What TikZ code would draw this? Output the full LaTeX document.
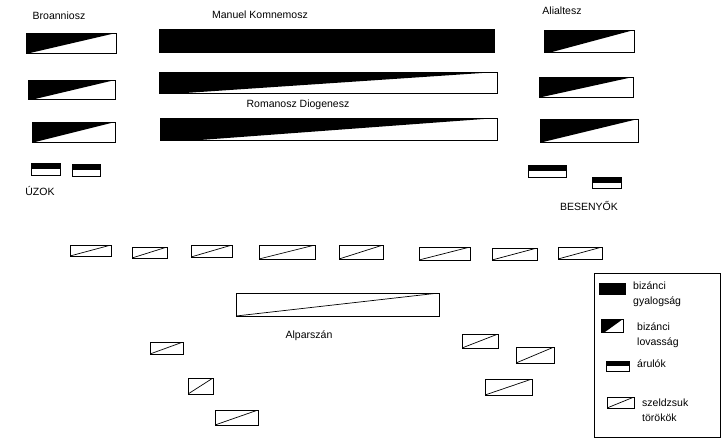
\documentclass[tikz,border=0pt]{standalone}
\usepackage{fontspec}
\setmainfont{Liberation Sans}
\begin{document}
\begin{tikzpicture}[x=1pt,y=-1pt,
  box/.style={draw, line width=0.9pt, inner sep=0pt, outer sep=0pt, anchor=north west},
  infantry/.style={box, fill=black},
  cavalry/.style={box, path picture={\fill[black] (path picture bounding box.north west) -- (path picture bounding box.north east) -- ([xshift=#1]path picture bounding box.south west) -- (path picture bounding box.south west) -- cycle;}},
  cavalry/.default=4pt,
  traitor/.style={box, path picture={\fill[black] (path picture bounding box.north west) rectangle ([yshift=-0.5*\pgfkeysvalueof{/pgf/minimum height}]path picture bounding box.north east);}},
  seljuk/.style={box, path picture={\draw[line width=0.7pt] (path picture bounding box.south west) -- (path picture bounding box.north east);}},
  lbl/.style={font=\fontsize{10.5}{15}\selectfont, inner sep=0pt},
]
\newcommand{\troop}[6]{\node[#1, minimum width={(#5-#3)*1pt}, minimum height={(#6-#4)*1pt}] (#2) at (#3,#4) {};}
\useasboundingbox[fill=white] (0,0) rectangle (723,440);

% top left
\node[lbl] (tBro) at (59,16) {Broanniosz};
\troop{cavalry=4pt}{bl1}{26}{33}{116}{53}
\troop{cavalry=7pt}{bl2}{28}{80}{115}{99}
\troop{cavalry=3pt}{bl3}{32}{122}{115}{142}
\troop{traitor}{tl1}{31}{163}{60}{175}
\troop{traitor}{tl2}{72}{164}{100}{176}
\node[lbl] (tUz) at (40,191) {ÚZOK};

% top middle
\node[lbl] (tMan) at (260,15) {Manuel Komnemosz};
\troop{infantry}{bm1}{159}{29}{494}{52}
\troop{cavalry=26pt}{bm2}{159}{72}{497}{93}
\node[lbl] (tRom) at (298,105) {Romanosz Diogenesz};
\troop{cavalry=40pt}{bm3}{160}{118}{497}{140}

% top right
\node[lbl] (tAli) at (562,11) {Alialtesz};
\troop{cavalry=8pt}{br1}{544}{30}{634}{52}
\troop{cavalry=3pt}{br2}{539}{77}{633}{97}
\troop{cavalry=3pt}{br3}{540}{119}{638}{142}
\troop{traitor}{tr1}{528}{165}{566}{177}
\troop{traitor}{tr2}{592}{177}{621}{188}
\node[lbl] (tBes) at (589,206) {BESENYŐK};

% middle row of seljuks
\troop{seljuk}{s1}{70}{245}{111}{256}
\troop{seljuk}{s2}{132}{247}{167}{258}
\troop{seljuk}{s3}{191}{245}{232}{257}
\troop{seljuk}{s4}{259}{245}{315}{259}
\troop{seljuk}{s5}{339}{245}{383}{259}
\troop{seljuk}{s6}{419}{247}{470}{260}
\troop{seljuk}{s7}{492}{248}{537}{260}
\troop{seljuk}{s8}{558}{247}{602}{259}

% bottom
\troop{seljuk}{alp}{236}{293}{439}{316}
\node[lbl] (tAlp) at (309,336) {Alparszán};
\troop{seljuk}{sl1}{150}{342}{183}{354}
\troop{seljuk}{sl2}{188}{378}{213}{394}
\troop{seljuk}{sl3}{215}{410}{258}{425}
\troop{seljuk}{sr1}{462}{334}{498}{348}
\troop{seljuk}{sr2}{516}{347}{554}{363}
\troop{seljuk}{sr3}{485}{379}{532}{395}

% legend
\troop{box}{legend}{594}{273}{720}{437}
\troop{infantry}{lg1}{599}{283}{625}{294}
\node[lbl, anchor=west, align=left] (tlg1) at (633,294.5) {bizánci\\gyalogság};
\troop{cavalry=4pt}{lg2}{601}{319}{623}{332}
\node[lbl, anchor=west, align=left] (tlg2) at (637,335) {bizánci\\lovasság};
\troop{traitor}{lg3}{606}{361}{629}{371}
\node[lbl, anchor=west] (tlg3) at (637,364) {árulók};
\troop{seljuk}{lg4}{607}{397}{634}{408}
\node[lbl, anchor=west, align=left] (tlg4) at (642,410) {szeldzsuk\\törökök};
\end{tikzpicture}
\end{document}
